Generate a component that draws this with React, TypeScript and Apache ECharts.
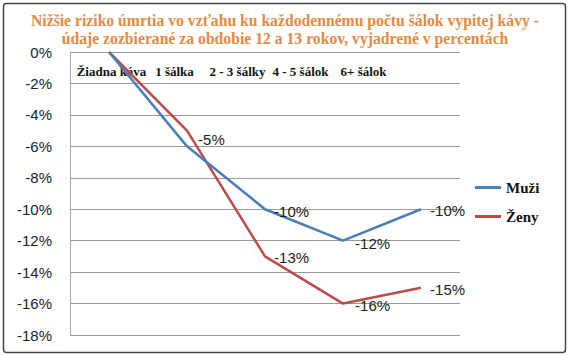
import React, { useEffect, useRef } from "react";
import * as echarts from "echarts";

const categories = ["Žiadna káva", "1 šálka", "2 - 3 šálky", "4 - 5 šálok", "6+ šálok"];
const muzi = [0, -6, -10, -12, -10];
const zeny = [0, -5, -13, -16, -15];
const muziLabelShown = [false, false, true, true, true];
const zenyLabelShown = [false, true, true, true, true];
const titleLines = [
  "Nižšie riziko úmrtia vo vzťahu ku každodennému počtu šálok vypitej kávy -",
  "údaje zozbierané za obdobie 12 a 13 rokov, vyjadrené v percentách",
];
const seriesNames = ["Muži", "Ženy"];

const muziOffsets: [number, number][] = [[0, 0], [0, 0], [4, 2], [7, 3], [4, 1]];
const zenyOffsets: [number, number][] = [[0, 0], [6, 9], [4, 1], [7, 2], [4, 2]];

export default function App() {
  const ref = useRef<HTMLDivElement>(null);
  useEffect(() => {
    document.body.style.margin = "0";
    const chart = echarts.init(ref.current!, null, { renderer: "svg" });
    const labelStyle = {
      fontFamily: "Liberation Sans",
      fontSize: 15,
      color: "#222",
    };
    chart.setOption({
      animation: false,
      backgroundColor: "#ffffff",
      title: {
        text: titleLines.join("\n"),
        left: "center",
        top: 6,
        textStyle: {
          fontFamily: "Liberation Serif",
          fontWeight: "bold",
          fontSize: 15.7,
          color: "#E58A42",
          lineHeight: 18,
        },
      },
      graphic: [
        {
          type: "rect",
          shape: { x: 3.5, y: 3.5, width: 562, height: 349, r: 3 },
          style: { fill: "none", stroke: "#444", lineWidth: 1.5 },
          silent: true,
        },
      ],
      legend: {
        orient: "vertical",
        left: 470,
        top: 175,
        itemWidth: 26,
        itemHeight: 3,
        itemGap: 14,
        icon: "rect",
        textStyle: {
          fontFamily: "Liberation Serif",
          fontWeight: "bold",
          fontSize: 15,
          color: "#111",
        },
        data: seriesNames,
      },
      grid: [
        { left: 70, right: 110, top: 52, bottom: 21 },
        { left: 80, width: 315, top: 52, height: 40 },
      ],
      xAxis: [
        {
          type: "category",
          gridIndex: 0,
          data: categories,
          boundaryGap: true,
          position: "top",
          axisLine: { show: false },
          axisTick: { show: false },
          axisLabel: { show: false },
        },
        {
          type: "category",
          gridIndex: 1,
          data: categories,
          position: "top",
          axisLine: { show: false },
          axisTick: { show: false },
          axisLabel: {
            inside: true,
            interval: 0,
            margin: 13,
            verticalAlign: "top",
            fontFamily: "Liberation Serif",
            fontWeight: "bold",
            fontSize: 13,
            color: "#111",
          },
        },
      ],
      yAxis: [
        {
          type: "value",
          gridIndex: 0,
          min: -18,
          max: 0,
          interval: 2,
          axisLine: { show: true, lineStyle: { color: "#aaa", width: 1 } },
          axisTick: { show: false },
          axisLabel: {
            formatter: (v: number) => `${v}%`,
            margin: 18,
            ...labelStyle,
          },
          splitLine: { lineStyle: { color: "#999", width: 1 } },
        },
        {
          type: "value",
          gridIndex: 1,
          show: false,
        },
      ],
      series: [
        {
          name: seriesNames[0],
          type: "line",
          xAxisIndex: 0,
          yAxisIndex: 0,
          data: muzi.map((v, i) => ({
            value: v,
            label: {
              show: muziLabelShown[i],
              position: "right",
              offset: muziOffsets[i],
              formatter: (p: any) => `${p.value}%`,
              ...labelStyle,
            },
          })),
          symbol: "circle",
          symbolSize: 0.1,
          showSymbol: true,
          lineStyle: { color: "#4A7EBB", width: 2.5 },
          itemStyle: { color: "#4A7EBB" },
          z: 3,
        },
        {
          name: seriesNames[1],
          type: "line",
          xAxisIndex: 0,
          yAxisIndex: 0,
          data: zeny.map((v, i) => ({
            value: v,
            label: {
              show: zenyLabelShown[i],
              position: "right",
              offset: zenyOffsets[i],
              formatter: (p: any) => `${p.value}%`,
              ...labelStyle,
            },
          })),
          symbol: "circle",
          symbolSize: 0.1,
          showSymbol: true,
          lineStyle: { color: "#BE4B48", width: 2.5 },
          itemStyle: { color: "#BE4B48" },
          z: 2,
        },
      ],
    });
    return () => chart.dispose();
  }, []);
  return <div ref={ref} style={{ width: 570, height: 356 }} />;
}
